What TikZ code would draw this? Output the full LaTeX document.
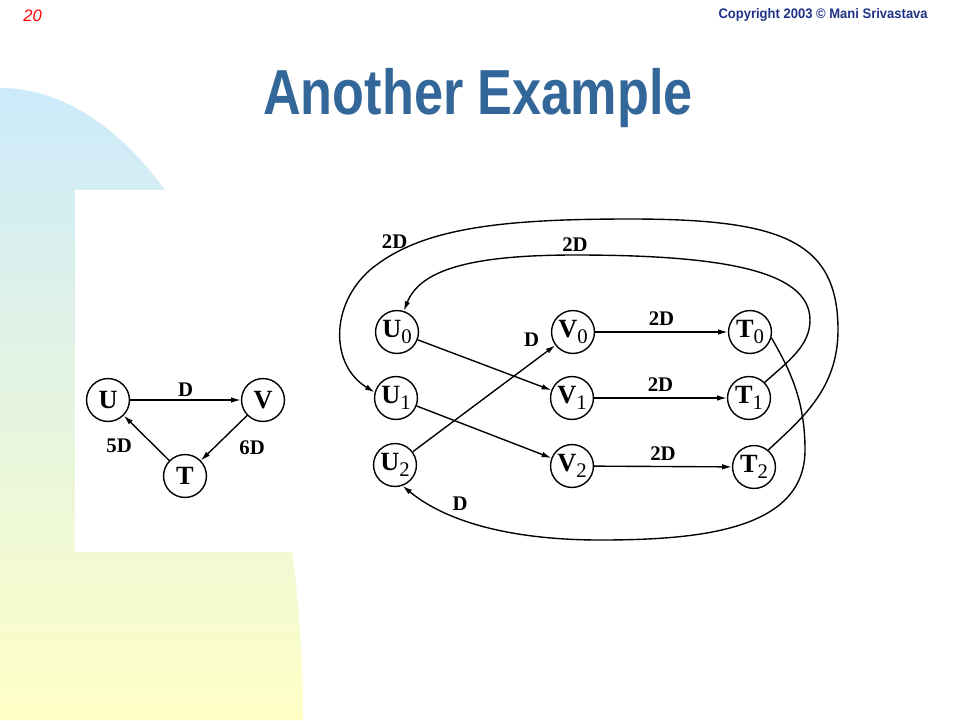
\documentclass[tikz,border=0pt]{standalone}
\usepackage{fontspec}
\setmainfont{Liberation Serif}
\newfontfamily\slidefont{Liberation Sans}
\usepackage{xcolor}
\usetikzlibrary{arrows.meta}
\definecolor{titleblue}{RGB}{51,102,153}
\definecolor{copyblue}{RGB}{30,50,135}
\definecolor{bgblue}{RGB}{204,234,251}
\definecolor{bgyellow}{RGB}{255,255,198}
\newcommand{\sub}[2]{#1\raisebox{-4.5pt}{\mdseries\fontsize{15}{15}\selectfont #2}}

\begin{document}
\begin{tikzpicture}[x=0.01in, y=-0.01in,
  vtx/.style={draw, circle, line width=1pt, minimum size=31pt, inner sep=0pt, font=\bfseries\fontsize{19}{20}\selectfont},
  arr/.style={line width=1pt, -{Latex[length=7pt, width=4pt]}},
  wt/.style={font=\bfseries\fontsize{15}{16}\selectfont, inner sep=2pt}]
\useasboundingbox (0,0) rectangle (960,720);
\fill[white] (0,0) rectangle (960,720);
\shade[top color=bgblue, bottom color=bgyellow] (0,720) -- (0,88) arc[start angle=-90, end angle=0, x radius=303, y radius=632] -- cycle;
\fill[white] (75,190) rectangle (850,552);

\node[anchor=base west, text=red, font=\slidefont\itshape\fontsize{12}{13}\selectfont, inner sep=0pt] (pagenum) at (23,21) {20};
\node[anchor=base east, text=copyblue, font=\slidefont\bfseries\fontsize{10}{12}\selectfont, inner sep=0pt] (copyright) at (928,18) {\scalebox{0.94}[1]{Copyright 2003 © Mani Srivastava}};
\node[anchor=base, text=titleblue, font=\slidefont\bfseries\fontsize{46}{50}\selectfont, inner sep=0pt] (title) at (478,114) {\scalebox{0.82}[1]{Another Example}};

% left graph
\node[vtx] (U) at (108,400) {U};
\node[vtx] (V) at (263,400) {V};
\node[vtx] (T) at (185,476) {T};
\draw[arr] (U) -- node[wt, above] {D} (V);
\draw[arr] (V) -- node[wt, pos=.72, right=16pt] {6D} (T);
\draw[arr] (T) -- node[wt, pos=.32, left=14pt] {5D} (U);

% right graph
\node[vtx] (U0) at (397,332) {\sub{U}{0}};
\node[vtx] (U1) at (396,398) {\sub{U}{1}};
\node[vtx] (U2) at (395,465) {\sub{U}{2}};
\node[vtx] (V0) at (573,332) {\sub{V}{0}};
\node[vtx] (V1) at (572,398) {\sub{V}{1}};
\node[vtx] (V2) at (572,466) {\sub{V}{2}};
\node[vtx] (T0) at (750,332) {\sub{T}{0}};
\node[vtx] (T1) at (749,398) {\sub{T}{1}};
\node[vtx] (T2) at (754,467) {\sub{T}{2}};

\draw[arr] (U0) -- (V1);
\draw[arr] (U1) -- (V2);
\draw[arr] (U2) -- node[wt, pos=.97, left=6pt, yshift=6pt] {D} (V0);
\draw[arr] (V0) -- node[wt, above=2pt] {2D} (T0);
\draw[arr] (V1) -- node[wt, above=2pt] {2D} (T1);
\draw[arr] (V2) -- node[wt, above=2pt] {2D} (T2);

\draw[arr] (T1.45) .. controls (790,360) and (810,345) .. (810,320)
  .. controls (810,270) and (720,255) .. (575,255) node[wt, above] {2D}
  .. controls (470,255) and (420,270) .. (U0.72);
\draw[arr] (T2.50) .. controls (800,420) and (838,390) .. (838,330)
  .. controls (838,240) and (780,219) .. (630,219)
  .. controls (500,219) and (420,228) .. node[wt, pos=.85, above=1pt] {2D} (370,270)
  .. controls (330,305) and (330,365) .. (U1.165);
\draw[arr] (T0.-15) .. controls (790,370) and (805,400) .. (805,450)
  .. controls (805,530) and (700,540) .. (600,540)
  .. controls (520,540) and (450,525) .. node[wt, pos=.65, above=3pt] {D} (U2.-70);
\end{tikzpicture}
\end{document}
